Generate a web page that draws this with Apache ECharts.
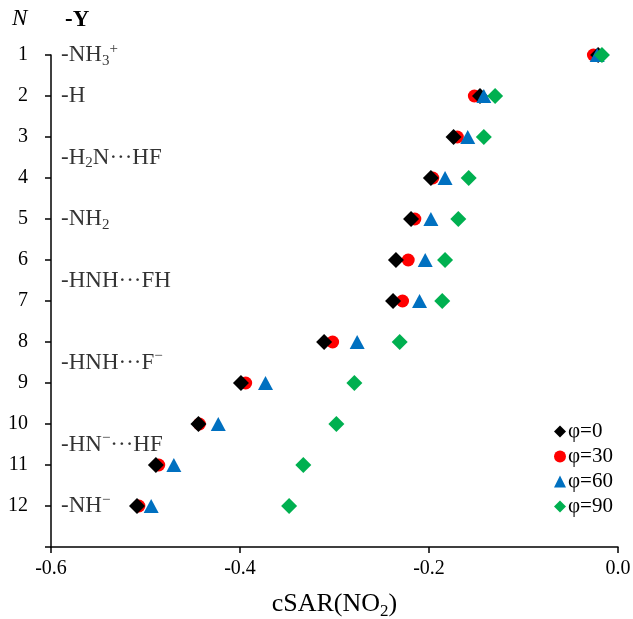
<!DOCTYPE html>
<html>
<head>
<meta charset="utf-8">
<script src="https://cdn.jsdelivr.net/npm/echarts@6/dist/echarts.min.js"></script>
<style>html,body{margin:0;padding:0;background:#fff;}#c{width:633px;height:619px;}</style>
</head>
<body>
<div id="c"></div>
<script>
// Category positions N (1..12)
const N = [1,2,3,4,5,6,7,8,9,10,11,12];
// cSAR(NO2) values per rotation angle
const phi0  = [-0.021,-0.146,-0.174,-0.198,-0.219,-0.235,-0.238,-0.311,-0.399,-0.444,-0.489,-0.509];
const phi30 = [-0.026,-0.152,-0.170,-0.196,-0.215,-0.222,-0.228,-0.302,-0.394,-0.443,-0.486,-0.507];
const phi60 = [-0.022,-0.142,-0.159,-0.183,-0.198,-0.204,-0.210,-0.276,-0.373,-0.423,-0.470,-0.494];
const phi90 = [-0.017,-0.130,-0.142,-0.158,-0.169,-0.183,-0.186,-0.231,-0.279,-0.298,-0.333,-0.348];
const seriesNames = ['φ=0','φ=30','φ=60','φ=90'];
// Substituent labels and their vertical positions (in N units)
const subLabels = ['-NH{sub|3}{sup|+}','-H','-H{sub|2}N···HF','-NH{sub|2}','-HNH···FH','-HNH···F{sup|−}','-HN{sup|−}···HF','-NH{sup|−}'];
const subLabelPos = [1,2,3.5,5,6.5,8.5,10.5,12];
const xTicks = {min:-0.6, max:0, interval:0.2};

const serif = '"Liberation Serif","Times New Roman",serif';
function pts(vals){ return vals.map((v,i)=>[v, N[i]]); }

const chart = echarts.init(document.getElementById('c'), null, {renderer:'canvas'});
const option = {
  backgroundColor:'#fff',
  animation:false,
  textStyle:{fontFamily:serif},
  grid:{left:51, right:15, top:55, bottom:72, containLabel:false, outerBoundsMode:'none'},
  xAxis:{
    type:'value', min:xTicks.min, max:xTicks.max, interval:xTicks.interval,
    position:'bottom',
    axisLine:{onZero:false, lineStyle:{color:'#000', width:1.5}},
    axisTick:{show:true, inside:false, length:6, lineStyle:{color:'#000', width:1.5}},
    axisLabel:{color:'#000', fontSize:20, fontFamily:serif, margin:12, formatter:v=>v.toFixed(1)},
    splitLine:{show:false},
    name:'cSAR(NO{sub|2})', nameLocation:'middle', nameGap:42,
    nameTextStyle:{color:'#000', fontSize:26, fontFamily:serif,
      rich:{sub:{fontSize:17, fontFamily:serif, color:'#000', padding:[14,0,0,0]}}}
  },
  yAxis:{
    type:'value', min:1, max:13, interval:1, inverse:true,
    axisLine:{onZero:false, lineStyle:{color:'#000', width:1.5}},
    axisTick:{show:true, inside:false, length:6, lineStyle:{color:'#000', width:1.5}},
    axisLabel:{color:'#000', fontSize:20, fontFamily:serif, margin:23, formatter:v=> v>12 ? '' : String(v)},
    splitLine:{show:false}
  },
  legend:{
    orient:'vertical', left:549, top:416, itemWidth:12, itemHeight:12, itemGap:4,
    data:[{name:seriesNames[0], icon:'diamond'},{name:seriesNames[1], icon:'circle'},{name:seriesNames[2], icon:'triangle'},{name:seriesNames[3], icon:'diamond'}],
    textStyle:{color:'#000', fontSize:21, fontFamily:serif, padding:[0,0,0,-3]}
  },
  graphic:[
    {type:'text', left:12, top:7, style:{text:'N', font:'italic 23px '+serif, fill:'#000'}},
    {type:'text', left:65, top:9, style:{text:'-Y', font:'bold 23px '+serif, fill:'#000'}}
  ],
  series:[
    {name:seriesNames[1], type:'scatter', symbol:'circle', symbolSize:13, itemStyle:{color:'#ff0000', opacity:1}, data:pts(phi30), z:2},
    {name:seriesNames[0], type:'scatter', symbol:'diamond', symbolSize:16, itemStyle:{color:'#000000', opacity:1}, data:pts(phi0), z:3},
    {name:seriesNames[2], type:'scatter', symbol:'triangle', symbolSize:[15,14], itemStyle:{color:'#0070c0', opacity:1}, data:pts(phi60), z:4},
    {name:seriesNames[3], type:'scatter', symbol:'diamond', symbolSize:16, itemStyle:{color:'#00b050', opacity:1}, data:pts(phi90), z:5},
    {name:'labels', type:'scatter', symbolSize:0, silent:true, z:1,
      data:subLabels.map((t,i)=>({value:[xTicks.min, subLabelPos[i]], labelText:t})),
      label:{show:true, position:'right', distance:10, color:'#000', fontSize:23, fontFamily:serif,
        formatter:p=>p.data.labelText,
        rich:{
          sub:{fontSize:15, fontFamily:serif, color:'#000', padding:[12,0,0,0]},
          sup:{fontSize:15, fontFamily:serif, color:'#000', padding:[0,0,12,0]}
        }}
    }
  ]
};
chart.setOption(option);
</script>
</body>
</html>
